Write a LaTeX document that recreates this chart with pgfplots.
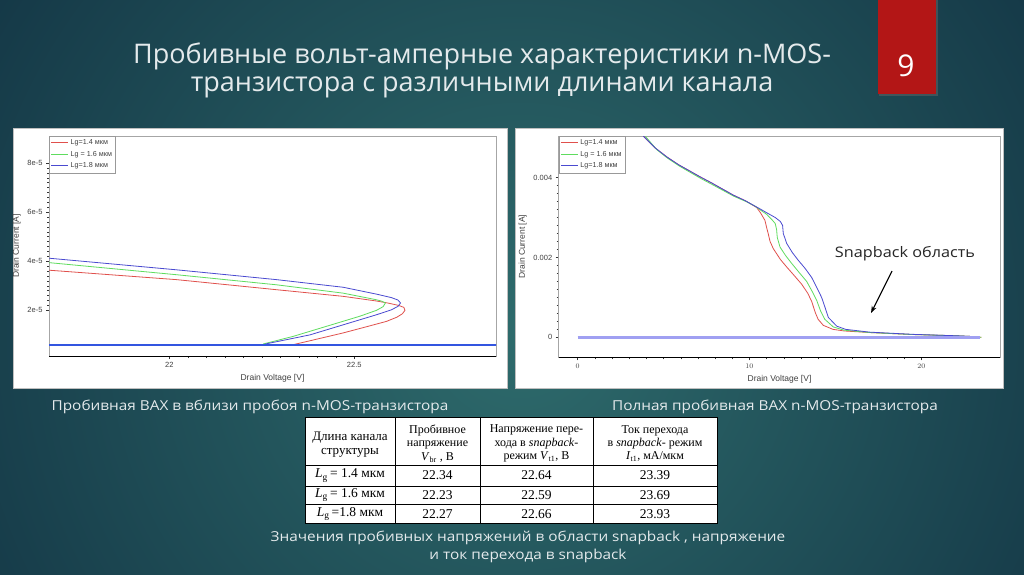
\documentclass[border=0pt]{standalone}
\usepackage{fontspec}
\setmainfont{Open Sans}
\newfontfamily\gothic[FakeStretch=1.12]{Open Sans}
\newfontfamily\arial{Liberation Sans}
\newfontfamily\tnr{Liberation Serif}
\usepackage{pgfplots}
\pgfplotsset{compat=1.18}
\usetikzlibrary{arrows.meta}

\definecolor{bgin}{HTML}{2E6B6C}
\definecolor{bgout}{HTML}{143746}
\definecolor{slidered}{HTML}{B31616}
\definecolor{txt}{HTML}{E4EAEC}
\definecolor{cred}{HTML}{E0504C}
\definecolor{cgreen}{HTML}{5FDC5F}
\definecolor{cblue}{HTML}{4A4AD0}
\definecolor{lflat}{HTML}{3355E0}
\definecolor{cflat}{HTML}{A0A0F2}

\pgfplotsset{
  panel/.style={
    scale only axis, anchor=north west,
    axis line style={draw=black!35, line width=0.5pt},
    tick style={black!80, line width=0.4pt},
    tick align=outside, xtick pos=bottom, ytick pos=left,
    major tick length=3pt, minor tick length=2pt,
    ticklabel style={font=\arial\fontsize{7.5}{8}\selectfont, text=black!75},
    label style={font=\arial\fontsize{8.5}{10}\selectfont, text=black!75},
    scaled ticks=false,
    legend cell align=left,
    legend style={at={(0,1)}, anchor=north west, draw=black!40,
      font=\arial\fontsize{7.2}{8}\selectfont, inner sep=1.5pt, row sep=1pt, text=black!75},
    legend image code/.code={\draw[##1, line width=1pt] (0pt,0pt) -- (17pt,0pt);},
    every axis plot/.append style={line width=0.8pt},
    after end axis/.code={\draw[black, line width=0.5pt] (rel axis cs:0,0) -- (rel axis cs:1,0);},
  }
}

\begin{document}
\begin{tikzpicture}[x=1pt,y=-1pt]
% slide background
\begin{scope}
  \clip (0,0) rectangle (1024,574);
  \fill[bgout] (0,0) rectangle (1024,574);
  \shade[inner color=bgin, outer color=bgout] (520,330) circle (640pt);
\end{scope}
\fill[black!60, opacity=0.5] (879,0) rectangle (938,96);
\fill[slidered] (878,0) rectangle (936,94);
\node[text=white, font=\fontsize{30}{32}\selectfont] at (906,66) {9};

\node[text=txt, font=\fontsize{27}{28}\selectfont, align=center] at (482,70)
  {Пробивные вольт-амперные характеристики n-MOS-\\транзистора с различными длинами канала};

% white panels
\fill[white, draw=black!25] (13,128) rectangle (507,388);
\fill[white, draw=black!25] (515,128) rectangle (1003,388);

% left chart: near breakdown
\begin{axis}[panel, at={(49pt,-136pt)}, width=447pt, height=220pt,
  xmin=21.675, xmax=22.883, ymin=1.4e-6, ymax=9.1e-5,
  xtick={22,22.5}, xticklabels={22,22.5}, minor x tick num=9,
  ytick={2e-5,4e-5,6e-5,8e-5}, yticklabels={2e-5,4e-5,6e-5,8e-5}, minor y tick num=9,
  xlabel={Drain Voltage [V]}, ylabel={Drain Current [A]}]
\addplot[color=cred] coordinates {(22.326,0.57e-5) (22.38,0.76e-5) (22.47,1.08e-5) (22.54,1.36e-5)
  (22.587,1.55e-5) (22.615,1.72e-5) (22.630,1.86e-5) (22.637,2.0e-5) (22.634,2.12e-5)
  (22.62,2.2e-5) (22.59,2.3e-5) (22.56,2.38e-5) (22.47,2.57e-5) (22.29,2.84e-5)
  (22.02,3.25e-5) (21.67,3.64e-5)};
\addlegendentry{Lg=1.4 мкм}
\addplot[color=cgreen] coordinates {(22.254,0.63e-5) (22.335,0.94e-5) (22.425,1.35e-5) (22.515,1.76e-5)
  (22.56,2.0e-5) (22.578,2.15e-5) (22.584,2.3e-5) (22.575,2.37e-5) (22.56,2.43e-5)
  (22.47,2.70e-5) (22.29,3.04e-5) (22.02,3.45e-5) (21.67,3.95e-5)};
\addlegendentry{Lg = 1.6 мкм}
\addplot[color=cblue] coordinates {(22.26,0.63e-5) (22.38,1.0e-5) (22.47,1.41e-5) (22.56,1.82e-5)
  (22.60,2.02e-5) (22.618,2.16e-5) (22.625,2.3e-5) (22.618,2.42e-5) (22.6,2.52e-5)
  (22.56,2.66e-5) (22.47,2.94e-5) (22.29,3.25e-5) (22.02,3.65e-5) (21.67,4.13e-5)};
\addlegendentry{Lg=1.8 мкм}
% low-current branch (same for all lengths)
\addplot[color=lflat, line width=2pt] coordinates {(21.67,0.57e-5) (22.9,0.57e-5)};
\end{axis}

% right chart: full curve
\begin{axis}[panel, at={(558.7pt,-136pt)}, width=441.6pt, height=221.3pt,
  xmin=-1.1, xmax=24.6, ymin=-0.0005, ymax=0.00504,
  xtick={0,10,20}, minor x tick num=9,
  ytick={0,0.002,0.004}, yticklabels={0,0.002,0.004}, minor y tick num=9,
  xlabel={Drain Voltage [V]}, ylabel={Drain Current [A]}]
\addplot[color=cred] coordinates {(3.5,5.6e-3) (3.84,5.03e-3) (4.52,4.74e-3) (5.18,4.52e-3) (5.88,4.32e-3)
  (7.12,4.02e-3) (7.82,3.86e-3) (9.06,3.56e-3) (9.76,3.42e-3) (10.42,3.25e-3)
  (10.64,3.12e-3) (10.9,2.93e-3) (11.0,2.75e-3) (11.09,2.6e-3) (11.2,2.4e-3) (11.39,2.22e-3)
  (11.8,1.95e-3) (12.17,1.76e-3) (12.6,1.55e-3) (13.04,1.33e-3) (13.4,1.1e-3) (13.62,0.9e-3)
  (13.85,0.6e-3) (14.0,0.45e-3) (14.3,0.30e-3) (14.86,0.20e-3) (15.5,0.16e-3) (17,0.12e-3)
  (19.5,0.07e-3) (22,0.04e-3) (23,0.02e-3) (23.5,0.0)};
\addlegendentry{Lg=1.4 мкм}
\addplot[color=cgreen] coordinates {(3.6,5.6e-3) (3.95,5.03e-3) (4.6,4.70e-3) (5.25,4.48e-3) (5.95,4.28e-3)
  (7.2,3.97e-3) (7.9,3.81e-3) (9.1,3.53e-3) (9.8,3.40e-3) (10.3,3.29e-3)
  (10.6,3.2e-3) (11.0,3.08e-3) (11.3,2.95e-3) (11.5,2.85e-3) (11.58,2.7e-3) (11.62,2.5e-3)
  (11.78,2.26e-3) (12.1,2.05e-3) (12.46,1.85e-3) (12.9,1.62e-3) (13.33,1.4e-3) (13.65,1.15e-3)
  (13.91,0.93e-3) (14.15,0.65e-3) (14.39,0.45e-3) (14.88,0.26e-3) (15.5,0.18e-3) (17,0.12e-3)
  (19.5,0.07e-3) (22,0.04e-3) (23,0.02e-3) (23.5,0.0)};
\addlegendentry{Lg = 1.6 мкм}
\addplot[color=cblue] coordinates {(3.5,5.6e-3) (3.84,5.03e-3) (4.52,4.74e-3) (5.18,4.52e-3) (5.88,4.32e-3)
  (7.12,4.02e-3) (7.82,3.86e-3) (9.06,3.56e-3) (9.76,3.42e-3) (10.3,3.29e-3)
  (10.6,3.22e-3) (11.0,3.12e-3) (11.5,3.0e-3) (11.8,2.9e-3) (11.93,2.8e-3) (11.97,2.6e-3)
  (12.17,2.35e-3) (12.5,2.12e-3) (12.84,1.93e-3) (13.25,1.72e-3) (13.62,1.5e-3) (13.95,1.22e-3)
  (14.2,1.0e-3) (14.4,0.75e-3) (14.59,0.5e-3) (15.08,0.28e-3) (15.6,0.2e-3) (17,0.13e-3)
  (19.5,0.075e-3) (22,0.04e-3) (23,0.02e-3) (23.4,0.0)};
\addlegendentry{Lg=1.8 мкм}
% low-current branch (same for all lengths)
\addplot[color=cflat, line width=2.6pt] coordinates {(0,0) (23.4,0)};
\end{axis}

\node[text=black!85, font=\gothic\fontsize{14.5}{16}\selectfont] at (905,254) {Snapback область};
\draw[black, line width=1.1pt, -{Stealth[length=7pt,width=5pt]}] (892,271) -- (871,313);

% captions
\node[text=txt, font=\gothic\fontsize{13.7}{16}\selectfont] at (250,407) {Пробивная ВАХ в вблизи пробоя n-MOS-транзистора};
\node[text=txt, font=\gothic\fontsize{13.7}{16}\selectfont] at (775,407) {Полная пробивная ВАХ n-MOS-транзистора};

% table
\fill[white] (305,417) rectangle (717,523);
\draw[black, line width=0.6pt] (305,417) rectangle (717,523);
\foreach \xx in {395,480,593} \draw[black, line width=0.6pt] (\xx,417) -- (\xx,523);
\foreach \yy in {465,486,504.5} \draw[black, line width=0.6pt] (305,\yy) -- (717,\yy);
\begin{scope}[every node/.style={font=\tnr\fontsize{12}{13.4}\selectfont, align=center, text=black}]
\node[font=\tnr\fontsize{13}{14}\selectfont] at (350,445) {Длина канала\\структуры};
\node at (437.5,443.5) {Пробивное\\напряжение\\\textit{V}\textsubscript{br} , В};
\node at (536.5,443.5) {Напряжение пере-\\хода в \textit{snapback}-\\режим \textit{V}\textsubscript{t1}, В};
\node at (655,443.5) {Ток перехода\\в \textit{snapback}- режим\\\textit{I}\textsubscript{t1}, мА/мкм};
\end{scope}
\begin{scope}[every node/.style={font=\tnr\fontsize{13.5}{14}\selectfont, text=black}]
\node at (350,475.5) {\textit{L}\textsubscript{g}\,= 1.4 мкм};
\node at (350,495) {\textit{L}\textsubscript{g}\,= 1.6 мкм};
\node at (350,514) {\textit{L}\textsubscript{g}\,=1.8 мкм};
\node at (437.5,475.5) {22.34}; \node at (536.5,475.5) {22.64}; \node at (655,475.5) {23.39};
\node at (437.5,495) {22.23}; \node at (536.5,495) {22.59}; \node at (655,495) {23.69};
\node at (437.5,514) {22.27}; \node at (536.5,514) {22.66}; \node at (655,514) {23.93};
\end{scope}

\node[text=txt, font=\gothic\fontsize{13.7}{18}\selectfont, align=center] at (528,547)
  {Значения пробивных напряжений в области snapback , напряжение\\и ток перехода в snapback};
\end{tikzpicture}
\end{document}
